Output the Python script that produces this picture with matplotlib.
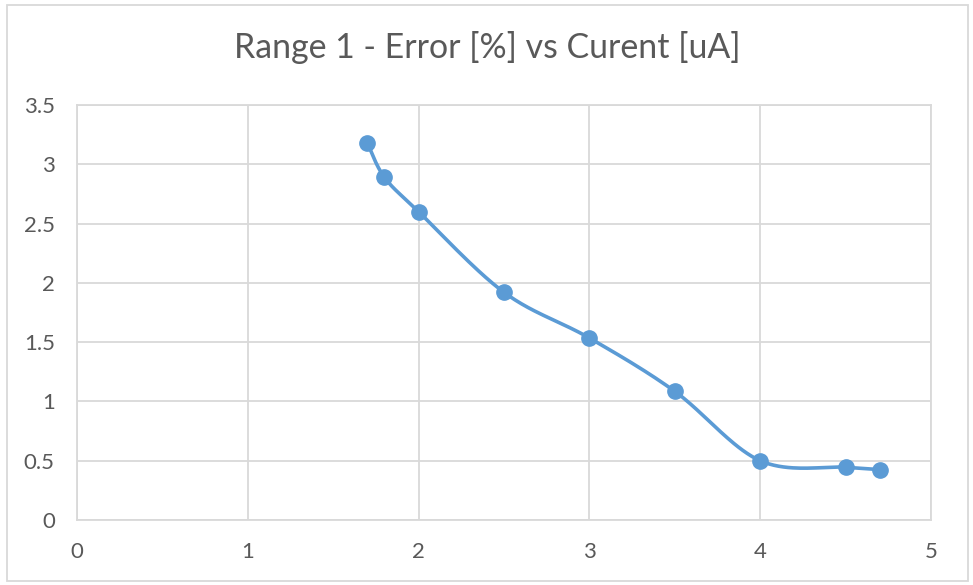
import numpy as np
import matplotlib
matplotlib.use("Agg")
import matplotlib.pyplot as plt
from matplotlib.patches import Rectangle

current_uA = [1.7, 1.8, 2.0, 2.5, 3.0, 3.5, 4.0, 4.5, 4.7]
error_pct = [3.18, 2.89, 2.60, 1.92, 1.535, 1.085, 0.50, 0.445, 0.425]
x_ticks = [0, 1, 2, 3, 4, 5]
y_ticks = [0, 0.5, 1, 1.5, 2, 2.5, 3, 3.5]
y_tick_labels = ["0", "0.5", "1", "1.5", "2", "2.5", "3", "3.5"]
title = "Range 1 - Error [%] vs Curent [uA]"

LINE = "#5b9bd5"
GRID = "#d9d9d9"
TEXT = "#595959"

plt.rcParams['font.family'] = ['Lato', 'DejaVu Sans']


def excel_smooth(xs, ys, n=40):
    P = np.column_stack([xs, ys]).astype(float)
    m = len(P)
    out = [P[0]]
    for i in range(m - 1):
        p0 = P[i - 1] if i > 0 else P[i]
        p1 = P[i]
        p2 = P[i + 1]
        p3 = P[i + 2] if i + 2 < m else P[i + 1]
        c1 = p1 + (p2 - p0) / 6.0
        c2 = p2 - (p3 - p1) / 6.0
        t = np.linspace(0, 1, n)[1:, None]
        b = ((1 - t) ** 3) * p1 + 3 * ((1 - t) ** 2) * t * c1 + 3 * (1 - t) * t ** 2 * c2 + t ** 3 * p2
        out.extend(b)
    out = np.array(out)
    return out[:, 0], out[:, 1]


fig = plt.figure(figsize=(9.73, 5.85), dpi=100)
fig.patches.append(Rectangle((7 / 973, 4 / 585), (968 - 7) / 973, (581 - 5) / 585,
                             transform=fig.transFigure, fill=False, edgecolor=GRID, lw=1.3))
ax = fig.add_axes([77 / 973, 1 - 520 / 585, (931 - 77) / 973, (520 - 105) / 585])

sx, sy = excel_smooth(current_uA, error_pct)
ax.plot(sx, sy, color=LINE, lw=2.6, solid_capstyle='round', zorder=3)
ax.plot(current_uA, error_pct, 'o', color=LINE, ms=11, zorder=4)

ax.set_xlim(0, 5)
ax.set_ylim(0, 3.5)
ax.set_xticks(x_ticks)
ax.set_yticks(y_ticks)
ax.set_yticklabels(y_tick_labels)
ax.grid(True, color=GRID, lw=1.3)
ax.set_axisbelow(True)
for s in ax.spines.values():
    s.set_color(GRID)
    s.set_linewidth(1.3)
ax.tick_params(length=0, colors=TEXT, labelsize=16)
ax.tick_params(axis='x', pad=16)
ax.tick_params(axis='y', pad=16)

fig.text(487 / 973, 1 - 48 / 585, title, ha='center', va='center', fontsize=24.4, color=TEXT)

fig.savefig("out.png", dpi=100)
